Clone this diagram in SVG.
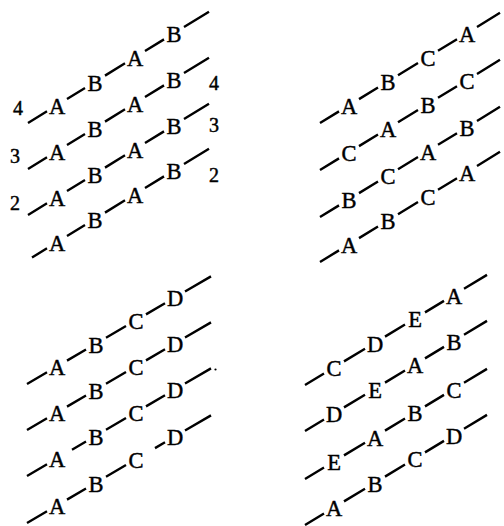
<svg xmlns="http://www.w3.org/2000/svg" xmlns:xlink="http://www.w3.org/1999/xlink" width="504" height="526" viewBox="0 0 504 526">
<style>
.d{fill:none;stroke:#000;stroke-width:2.4;stroke-linecap:butt}
text{font-family:"Liberation Serif","Times New Roman",serif;fill:#000;stroke:#000;stroke-width:0.45;text-anchor:middle}
.l{font-size:22.5px}
.n{font-size:20px}
</style>
<defs>
<path id="p1" class="d" d="M28,0 L47,-11.69 M67,-23.99 L85,-35.06 M105,-47.36 L125,-59.66 M145,-71.96 L164,-83.64 M184,-95.94 L209,-111.32"/>
<path id="p1b" class="d" d="M32,-2.46 L47,-11.69 M67,-23.99 L85,-35.06 M105,-47.36 L125,-59.66 M145,-71.96 L164,-83.64 M184,-95.94 L209,-111.32"/>
<path id="p2" class="d" d="M320,0 L339,-11.63 M359,-23.87 L378,-35.5 M398,-47.74 L418,-59.98 M438,-72.22 L457,-83.84 M477,-96.08 L500,-110.16"/>
<path id="p3" class="d" d="M27,0 L47,-11.7 M67,-23.4 L86,-34.52 M106,-46.22 L126,-57.92 M146,-69.62 L165,-80.73 M185,-92.43 L211,-107.64"/>
<path id="p3r3" class="d" d="M27,0 L47,-11.7 M72,-26.33 L86,-34.52 M106,-46.22 L126,-57.92 M146,-69.62 L165,-80.73 M185,-92.43 L211,-107.64"/>
<path id="p3r4" class="d" d="M27,0 L47,-11.7 M67,-23.4 L86,-34.52 M106,-46.22 L126,-57.92 M155,-74.88 L165,-80.73 M185,-92.43 L211,-107.64"/>
<path id="p4" class="d" d="M305,0 L324,-11.5 M344,-23.6 L365,-36.3 M385,-48.4 L405,-60.5 M425,-72.6 L444,-84.1 M464,-96.2 L487,-110.11"/>
</defs>

<g id="connectors">
<use xlink:href="#p1" y="123"/>
<use xlink:href="#p1" y="169"/>
<use xlink:href="#p1" y="215"/>
<use xlink:href="#p1b" y="260"/>
<use xlink:href="#p2" y="123"/>
<use xlink:href="#p2" y="170"/>
<use xlink:href="#p2" y="217"/>
<use xlink:href="#p2" y="262"/>
<use xlink:href="#p3" y="384"/>
<use xlink:href="#p3" y="430"/>
<use xlink:href="#p3r3" y="476"/>
<use xlink:href="#p3r4" y="523"/>
<circle cx="215.5" cy="369.5" r="1.1" fill="#000"/>
<use xlink:href="#p4" y="385"/>
<use xlink:href="#p4" y="431"/>
<use xlink:href="#p4" y="479"/>
<use xlink:href="#p4" y="525"/>
</g>

<!-- Panel 1 -->
<g id="panel1" transform="translate(0,1.5)">
<g id="p1-lab-l4"><text class="n" x="18" y="113">4</text></g>
<g id="p1-lab-l3"><text class="n" x="15" y="161">3</text></g>
<g id="p1-lab-l2"><text class="n" x="15" y="208">2</text></g>
<g id="p1-lab-r4"><text class="n" x="214" y="88">4</text></g>
<g id="p1-lab-r3"><text class="n" x="214" y="130">3</text></g>
<g id="p1-lab-r2"><text class="n" x="214" y="180">2</text></g>
<g id="p1r1a"><text class="l" x="57" y="112.7">A</text></g>
<g id="p1r1b"><text class="l" x="95" y="89.3">B</text></g>
<g id="p1r1c"><text class="l" x="135" y="64.7">A</text></g>
<g id="p1r1d"><text class="l" x="174" y="40.7">B</text></g>
<g id="p1r2a"><text class="l" x="57" y="158.7">A</text></g>
<g id="p1r2b"><text class="l" x="95" y="135.3">B</text></g>
<g id="p1r2c"><text class="l" x="135" y="110.7">A</text></g>
<g id="p1r2d"><text class="l" x="174" y="86.7">B</text></g>
<g id="p1r3a"><text class="l" x="57" y="204.7">A</text></g>
<g id="p1r3b"><text class="l" x="95" y="181.3">B</text></g>
<g id="p1r3c"><text class="l" x="135" y="156.7">A</text></g>
<g id="p1r3d"><text class="l" x="174" y="132.7">B</text></g>
<g id="p1r4a"><text class="l" x="57" y="249.7">A</text></g>
<g id="p1r4b"><text class="l" x="95" y="226.3">B</text></g>
<g id="p1r4c"><text class="l" x="135" y="201.7">A</text></g>
<g id="p1r4d"><text class="l" x="174" y="177.7">B</text></g>
</g>

<!-- Panel 2 -->
<g id="panel2" transform="translate(0,1.5)">
<g id="p2r1a"><text class="l" x="349" y="112.75">A</text></g>
<g id="p2r1b"><text class="l" x="388" y="88.88">B</text></g>
<g id="p2r1c"><text class="l" x="428" y="64.4">C</text></g>
<g id="p2r1d"><text class="l" x="467" y="40.54">A</text></g>
<g id="p2r2a"><text class="l" x="349" y="159.75">C</text></g>
<g id="p2r2b"><text class="l" x="388" y="135.88">A</text></g>
<g id="p2r2c"><text class="l" x="428" y="111.4">B</text></g>
<g id="p2r2d"><text class="l" x="467" y="87.54">C</text></g>
<g id="p2r3a"><text class="l" x="349" y="206.75">B</text></g>
<g id="p2r3b"><text class="l" x="388" y="182.88">C</text></g>
<g id="p2r3c"><text class="l" x="428" y="158.4">A</text></g>
<g id="p2r3d"><text class="l" x="467" y="134.54">B</text></g>
<g id="p2r4a"><text class="l" x="349" y="251.75">A</text></g>
<g id="p2r4b"><text class="l" x="388" y="227.88">B</text></g>
<g id="p2r4c"><text class="l" x="428" y="203.4">C</text></g>
<g id="p2r4d"><text class="l" x="467" y="179.54">A</text></g>
</g>

<!-- Panel 3 -->
<g id="panel3" transform="translate(0,1.5)">
<g id="p3r1a"><text class="l" x="57" y="373.95">A</text></g>
<g id="p3r1b"><text class="l" x="96" y="351.13">B</text></g>
<g id="p3r1c"><text class="l" x="136" y="327.73">C</text></g>
<g id="p3r1d"><text class="l" x="175" y="304.92">D</text></g>
<g id="p3r2a"><text class="l" x="57" y="419.95">A</text></g>
<g id="p3r2b"><text class="l" x="96" y="397.13">B</text></g>
<g id="p3r2c"><text class="l" x="136" y="373.73">C</text></g>
<g id="p3r2d"><text class="l" x="175" y="350.92">D</text></g>
<g id="p3r3a"><text class="l" x="57" y="465.95">A</text></g>
<g id="p3r3b"><text class="l" x="96" y="443.13">B</text></g>
<g id="p3r3c"><text class="l" x="136" y="419.73">C</text></g>
<g id="p3r3d"><text class="l" x="175" y="396.92">D</text></g>
<g id="p3r4a"><text class="l" x="57" y="512.95">A</text></g>
<g id="p3r4b"><text class="l" x="96" y="490.13">B</text></g>
<g id="p3r4c"><text class="l" x="136" y="466.73">C</text></g>
<g id="p3r4d"><text class="l" x="175" y="443.92">D</text></g>
</g>

<!-- Panel 4 -->
<g id="panel4" transform="translate(0,1.5)">
<g id="p4r1a"><text class="l" x="334" y="374.95">C</text></g>
<g id="p4r1b"><text class="l" x="375" y="350.15">D</text></g>
<g id="p4r1c"><text class="l" x="415" y="325.95">E</text></g>
<g id="p4r1d"><text class="l" x="454" y="302.35">A</text></g>
<g id="p4r2a"><text class="l" x="334" y="420.95">D</text></g>
<g id="p4r2b"><text class="l" x="375" y="396.15">E</text></g>
<g id="p4r2c"><text class="l" x="415" y="371.95">A</text></g>
<g id="p4r2d"><text class="l" x="454" y="348.35">B</text></g>
<g id="p4r3a"><text class="l" x="334" y="468.95">E</text></g>
<g id="p4r3b"><text class="l" x="375" y="444.15">A</text></g>
<g id="p4r3c"><text class="l" x="415" y="419.95">B</text></g>
<g id="p4r3d"><text class="l" x="454" y="396.35">C</text></g>
<g id="p4r4a"><text class="l" x="334" y="514.95">A</text></g>
<g id="p4r4b"><text class="l" x="375" y="490.15">B</text></g>
<g id="p4r4c"><text class="l" x="415" y="465.95">C</text></g>
<g id="p4r4d"><text class="l" x="454" y="442.35">D</text></g>
</g>
</svg>
